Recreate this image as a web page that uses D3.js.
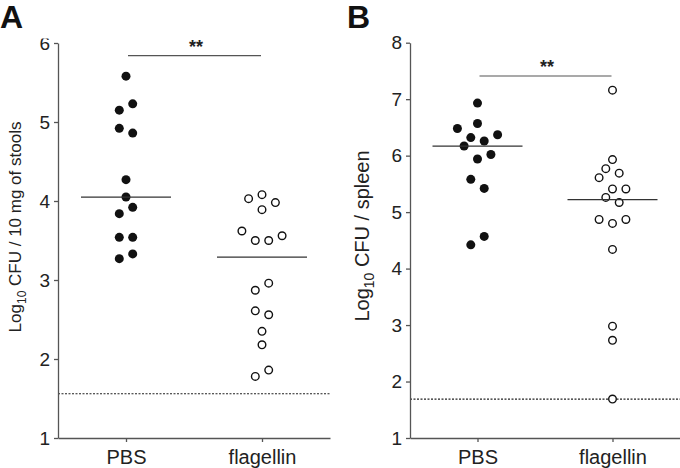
<!DOCTYPE html>
<html><head><meta charset="utf-8">
<script src="https://cdn.jsdelivr.net/npm/d3@7"></script>
<style>body{margin:0;background:#fff}svg{display:block}text{font-family:Arial,"Liberation Sans",Helvetica,sans-serif}</style>
</head><body><svg id="c" width="680" height="468"></svg>
<script>
const categories = ["PBS", "flagellin"];
// Panel A: Log10 CFU / 10 mg of stools
const stoolPBS = [5.58, 5.23, 5.15, 4.92, 4.86, 4.27, 4.05, 3.92, 3.84, 3.54, 3.54, 3.33, 3.27];
const stoolPBSCol = [0, 1, -1, -1, 1, 0, 0, 1, -1, -1, 1, 1, -1];
const stoolFla = [4.08, 4.03, 3.98, 3.89, 3.62, 3.56, 3.50, 3.50, 2.96, 2.87, 2.61, 2.56, 2.35, 2.18, 1.86, 1.78];
const stoolFlaCol = [0, -2, 2, 0, -3, 3, -1, 1, 1, -1, -1, 1, 0, 0, 1, -1];
const stoolMedians = [4.05, 3.29];
const stoolLOD = 1.56;
const stoolSig = 5.84;
const stoolTicks = [1, 2, 3, 4, 5, 6];
// Panel B: Log10 CFU / spleen
const spleenPBS = [6.93, 6.57, 6.48, 6.37, 6.32, 6.26, 6.17, 6.02, 5.94, 5.58, 5.42, 4.57, 4.42];
const spleenPBSCol = [0, 0, -3, 3, -1, 1, -2, 2, 0, -1, 1, 1, -1];
const spleenFla = [7.16, 5.93, 5.77, 5.69, 5.61, 5.41, 5.41, 5.26, 5.17, 4.87, 4.80, 4.87, 4.34, 2.98, 2.73, 1.69];
const spleenFlaCol = [0, 0, -1, 1, -2, 0, 2, -1, 1, -2, 0, 2, 0, 0, 0, 0];
const spleenMedians = [6.17, 5.22];
const spleenLOD = 1.69;
const spleenSig = 7.41;
const spleenTicks = [1, 2, 3, 4, 5, 6, 7, 8];

const svg = d3.select("#c");
const axisColor = "#555";

function panel(cfg) {
  const g = svg.append("g");
  const x = d3.scalePoint().domain(categories).range([cfg.x0, cfg.x1]).padding(0.5);
  const y = d3.scaleLinear().domain(cfg.domain).range([438, cfg.yTop]);
  const step = 6.7;

  // LOD dotted line
  g.append("line").attr("x1", cfg.x0).attr("x2", cfg.x1)
    .attr("y1", y(cfg.lod)).attr("y2", y(cfg.lod))
    .attr("stroke", "#222").attr("stroke-width", 1.2).attr("stroke-dasharray", "2,1.5");

  // axes
  const ya = g.append("g").attr("transform", `translate(${cfg.x0},0)`)
    .call(d3.axisLeft(y).tickValues(cfg.ticks).tickFormat(d3.format("d")).tickSize(4).tickSizeOuter(0).tickPadding(4));
  const xa = g.append("g").attr("transform", "translate(0,438)")
    .call(d3.axisBottom(x).tickSize(4).tickSizeOuter(0).tickPadding(8));
  [ya, xa].forEach(a => {
    a.attr("font-family", null).attr("font-size", null);
    a.selectAll("path,line").attr("stroke", axisColor).attr("stroke-width", 1.3);
    a.selectAll("text").attr("fill", "#222").style("font-size", "19px");
  });
  xa.selectAll("text").style("font-size", "20px");

  // points
  const pts = [
    {vals: cfg.pbs, cols: cfg.pbsCol, cat: "PBS", filled: true},
    {vals: cfg.fla, cols: cfg.flaCol, cat: "flagellin", filled: false}
  ];
  pts.forEach(p => {
    g.selectAll(null).data(p.vals).enter().append("circle")
      .attr("cx", (d, i) => x(p.cat) + p.cols[i] * step)
      .attr("cy", d => y(d))
      .attr("r", p.filled ? 4.5 : 3.8)
      .attr("fill", p.filled ? "#111" : "#fff")
      .attr("stroke", "#111").attr("stroke-width", p.filled ? 0 : 1.4);
  });

  // medians
  g.selectAll(null).data(cfg.medians).enter().append("line")
    .attr("x1", (d, i) => x(categories[i]) - 45).attr("x2", (d, i) => x(categories[i]) + 45)
    .attr("y1", d => y(d)).attr("y2", d => y(d))
    .attr("stroke", "#333").attr("stroke-width", 1.3);

  // significance
  g.append("line").attr("x1", x("PBS") + 2).attr("x2", x("flagellin") - 1)
    .attr("y1", y(cfg.sig)).attr("y2", y(cfg.sig))
    .attr("stroke", "#555").attr("stroke-width", 1.2);
  g.append("text").attr("x", (x("PBS") + x("flagellin")) / 2 + 2).attr("y", y(cfg.sig) - 3)
    .attr("text-anchor", "middle").style("font-size", "18px").style("font-weight", "bold").attr("fill", "#222").text("**");

  // y title
  const t = g.append("text").attr("transform", `translate(${cfg.titleX},${cfg.titleY}) rotate(-90)`)
    .attr("text-anchor", "middle").style("font-size", cfg.titleSize + "px").attr("fill", "#222");
  t.append("tspan").text("Log");
  t.append("tspan").attr("dy", 5).style("font-size", Math.round(cfg.titleSize * 0.7) + "px").text("10");
  t.append("tspan").attr("dy", -5).text(cfg.title);

  if (cfg.mask) {
    g.append("rect").attr("x", 30).attr("y", 0).attr("width", 24).attr("height", 38.5).attr("fill", "#fff");
  }
  // panel letter
  g.append("text").attr("x", cfg.letterX).attr("y", 28).style("font-size", "32px").style("font-weight", "bold")
    .attr("fill", "#111").text(cfg.letter);
}

panel({x0: 58, x1: 330, domain: [1, 6], yTop: 43, ticks: stoolTicks,
  pbs: stoolPBS, pbsCol: stoolPBSCol, fla: stoolFla, flaCol: stoolFlaCol,
  medians: stoolMedians, lod: stoolLOD, sig: stoolSig,
  title: " CFU / 10 mg of stools", titleSize: 17, titleX: 21, titleY: 227, letter: "A", letterX: 0, mask: true});
panel({x0: 410, x1: 680, domain: [1, 8], yTop: 42.7, ticks: spleenTicks,
  pbs: spleenPBS, pbsCol: spleenPBSCol, fla: spleenFla, flaCol: spleenFlaCol,
  medians: spleenMedians, lod: spleenLOD, sig: spleenSig,
  title: " CFU / spleen", titleSize: 20, titleX: 369, titleY: 236, letter: "B", letterX: 347, mask: false});
</script></body></html>
